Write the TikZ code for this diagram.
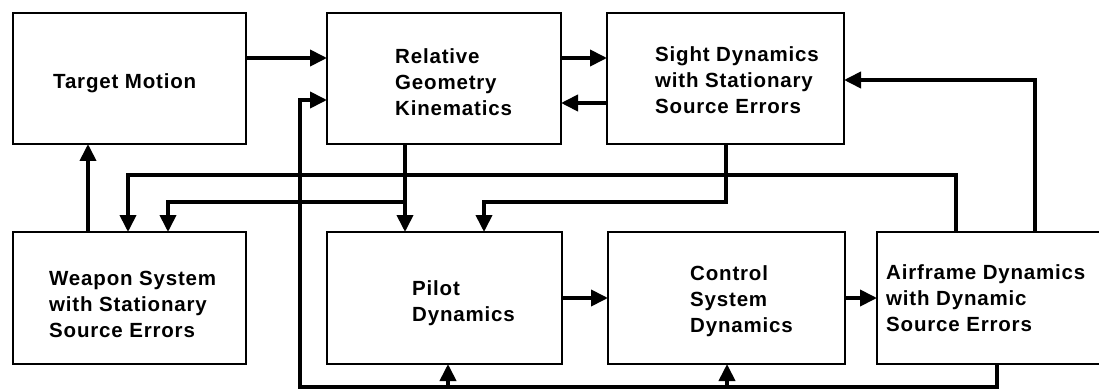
\documentclass[tikz,border=0pt]{standalone}
\usepackage{fontspec}
\newfontfamily\lbfont[LetterSpace=4]{Liberation Sans}
\usetikzlibrary{arrows.meta}
\begin{document}
\begin{tikzpicture}[x=1pt,y=-1pt,
  box/.style={draw, line width=2.5pt, inner sep=0pt, outer sep=0pt, anchor=north west},
  wire/.style={line width=3.8pt},
  arr/.style={wire, -{Triangle[length=17pt,width=16pt]}},
  lbl/.style={anchor=west, align=left, inner sep=0pt,
    font=\lbfont\bfseries\fontsize{20.5}{26}\selectfont}]
\fill[white] (0,0) rectangle (1099,390);
\path[use as bounding box] (0,0) rectangle (1099,390);
\clip (0,0) rectangle (1099,390);

% blocks
\node[box, minimum width=233pt, minimum height=131pt] (tm) at (13,13) {};
\node[box, minimum width=234pt, minimum height=131pt] (rg) at (327,13) {};
\node[box, minimum width=237pt, minimum height=131pt] (sd) at (607,13) {};
\node[box, minimum width=233pt, minimum height=132pt] (ws) at (13,232) {};
\node[box, minimum width=235pt, minimum height=132pt] (pd) at (327,232) {};
\node[box, minimum width=237pt, minimum height=132pt] (cs) at (608,232) {};
\node[box, minimum width=240pt, minimum height=132pt] (ad) at (877,232) {};

% block texts
\node[lbl] (tmt) at (53,83) {Target Motion};
\node[lbl] (rgt) at (395,82) {Relative\\Geometry\\Kinematics};
\node[lbl] (sdt) at (655,80) {Sight Dynamics\\with Stationary\\Source Errors};
\node[lbl] (wst) at (49,304) {Weapon System\\with Stationary\\Source Errors};
\node[lbl] (pdt) at (412,303) {Pilot\\Dynamics};
\node[lbl] (cst) at (690,301) {Control\\System\\Dynamics};
\node[lbl] (adt) at (886,298) {Airframe Dynamics\\with Dynamic\\Source Errors};

% junction points
\coordinate (jl) at (405,202);
\coordinate (jr) at (726,202);
\coordinate (jt) at (128,175);
\coordinate (jb) at (300,387);
\coordinate (jp) at (448,387);
\coordinate (jc) at (727,387);

% forward path
\draw[arr] (tm.east |- 0,58) -- (rg.west |- 0,58);
\draw[arr] (rg.east |- 0,58) -- (sd.west |- 0,58);
\draw[arr] (sd.west |- 0,103) -- (rg.east |- 0,103);
\draw[arr] (ws.north -| 88,0) -- (tm.south -| 88,0);
\draw[arr] (pd.east |- 0,298) -- (cs.west |- 0,298);
\draw[arr] (cs.east |- 0,298) -- (ad.west |- 0,298);

% feedback from the airframe
\draw[arr] (ad.north -| 1035,0) |- (sd.east |- 0,80);
\draw[arr] (ad.north -| 956,0) |- (jt) -- (ws.north -| jt);

% geometry and sight outputs
\draw[arr] (rg.south -| jl) -- (pd.north -| jl);
\draw[arr] (jl) -| (ws.north -| 168,0);
\draw[arr] (sd.south -| jr) -- (jr) -| (pd.north -| 484,0);

% lower loop
\draw[arr] (ad.south -| 997,0) |- (jb) |- (rg.west |- 0,100);
\draw[arr] (jp) -- (pd.south -| jp);
\draw[arr] (jc) -- (cs.south -| jc);
\end{tikzpicture}
\end{document}
